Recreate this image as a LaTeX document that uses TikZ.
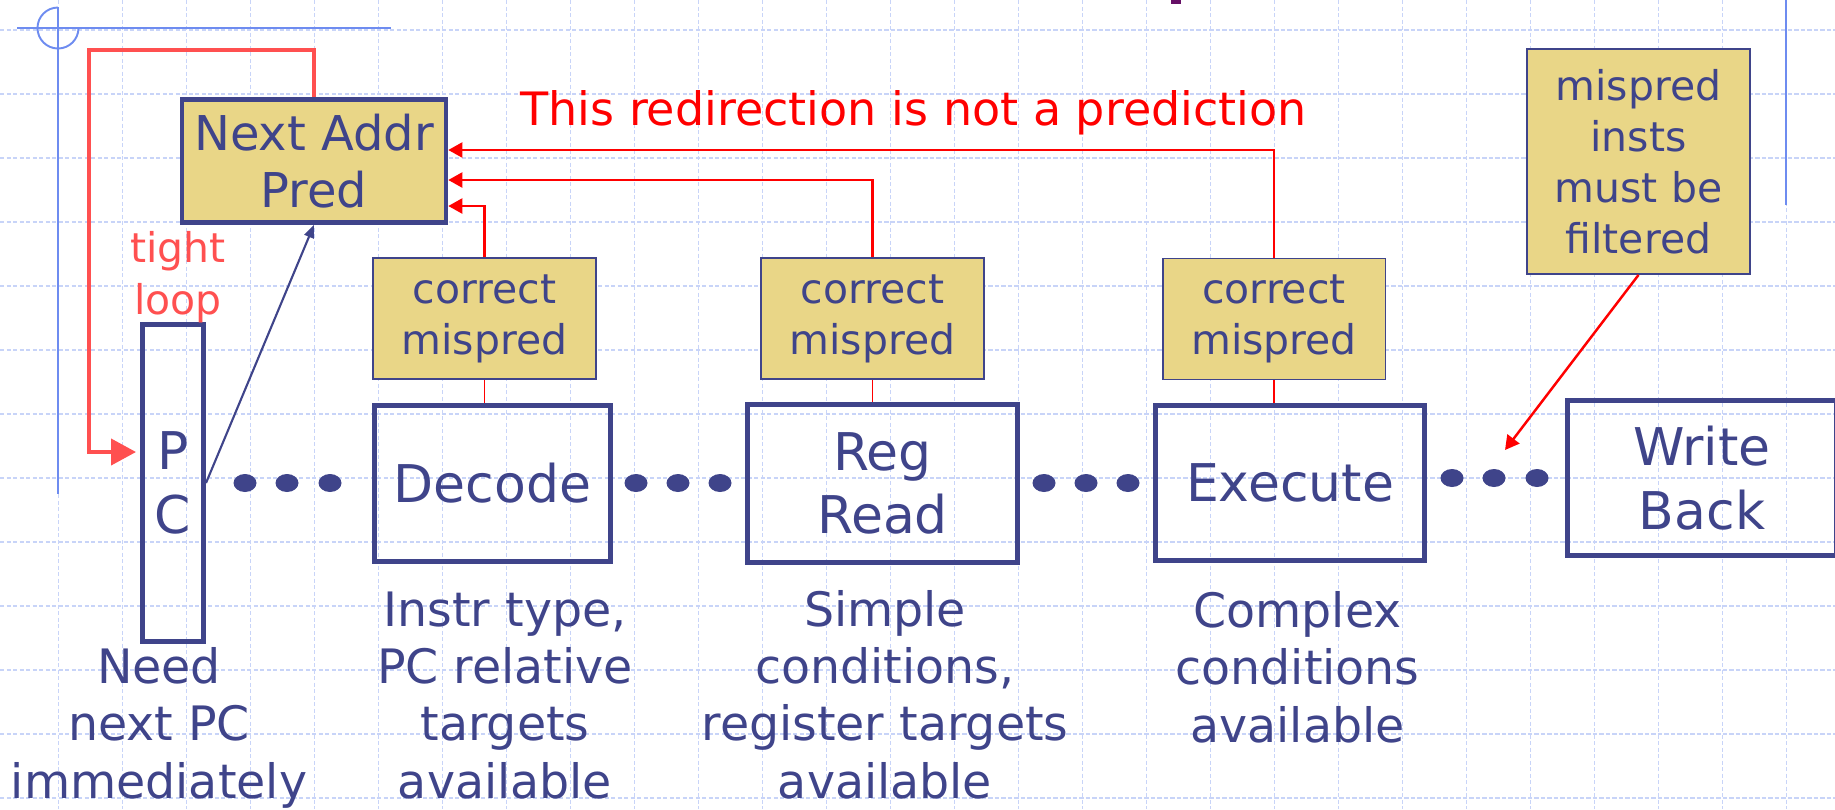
\documentclass[tikz,border=0pt]{standalone}
\usepackage{fontspec}
\setmainfont{DejaVu Sans}
\usetikzlibrary{arrows.meta,calc}
\definecolor{PipeBlue}{RGB}{63,68,138}
\definecolor{PaleKhaki}{RGB}{233,214,135}
\definecolor{RedirRed}{RGB}{255,0,0}
\definecolor{LoopRed}{RGB}{255,80,80}
\definecolor{SlideBlue}{RGB}{110,140,240}
\definecolor{GridBlue}{RGB}{200,212,248}
\definecolor{TitlePurple}{RGB}{102,16,102}

\begin{document}
\begin{tikzpicture}[x=0.02cm,y=-0.02cm, every node/.style={inner sep=0pt, align=center, text=PipeBlue},
  stage/.style={draw=PipeBlue, line width=2.85pt, font=\fontsize{29.6}{36.1}\selectfont},
  fixbox/.style={draw=PipeBlue, line width=1.1pt, fill=PaleKhaki, minimum width=4.46cm,
                 font=\fontsize{23.3}{29}\selectfont},
  note/.style={anchor=base, font=\fontsize{27}{32.6}\selectfont},
  redir/.style={RedirRed, line width=1.4pt, -{Triangle[length=8pt,width=8.5pt]}},
  gridline/.style={GridBlue, line width=0.8pt, dash pattern=on 2.5pt off 1.2pt}]
  \useasboundingbox (0,0) rectangle (1835,809);
  % slide background
  \foreach \gx in {0,...,27} \draw[gridline] ({58.5+64*\gx},0) -- ({58.5+64*\gx},809);
  \foreach \gy in {0,...,12} \draw[gridline] (0,{30+64*\gy}) -- (1835,{30+64*\gy});
  \draw[SlideBlue, line width=1.1pt] (17,28) -- (391,28);
  \draw[SlideBlue, line width=1.1pt] (58,7) -- (58,494);
  \draw[SlideBlue, line width=1.1pt] (78.5,28) arc[start angle=0, end angle=270, radius=20.5];
  \draw[SlideBlue, line width=1.1pt] (1786,0) -- (1786,205);
  \fill[TitlePurple] (1171,0) rectangle (1181,4);

  % pipeline stages
  \node[stage, minimum width=1.22cm, minimum height=6.34cm] (pc) at (173,483) {P\\C};
  \node[stage, minimum width=4.72cm, minimum height=3.12cm] (dec) at (492.5,483.5) {Decode};
  \node[stage, minimum width=5.4cm, minimum height=3.16cm] (rr) at (882.5,483.5) {Reg\\Read};
  \node[stage, minimum width=5.38cm, minimum height=3.1cm] (exe) at (1290,483) {Execute};
  \node[stage, minimum width=5.4cm, minimum height=3.1cm] (wb) at (1702,478) {Write\\Back};
  \foreach \dx in {245,287,330,636,678,720,1044,1086,1128}
    \fill[PipeBlue] (\dx,483) ellipse [x radius=11.5, y radius=9];
  \foreach \dx in {1452,1494,1537}
    \fill[PipeBlue] (\dx,478) ellipse [x radius=11.5, y radius=9];

  % predictor and fix-up boxes
  \node[draw=PipeBlue, line width=2.6pt, fill=PaleKhaki, minimum width=5.28cm, minimum height=2.46cm,
        font=\fontsize{27.3}{32.4}\selectfont] (nap) at (314,161) {Next Addr\\Pred};
  \node[fixbox, minimum height=2.42cm] (fix1) at (484.5,318.5) {correct\\mispred};
  \node[fixbox, minimum height=2.42cm] (fix2) at (872.5,318.5) {correct\\mispred};
  \node[fixbox, minimum height=2.42cm] (fix3) at (1274,319) {correct\\mispred};
  \node[fixbox, minimum height=4.5cm] (mis) at (1638.5,161.5) {mispred\\insts\\must be\\filtered};

  % labels (base = last line)
  \node[anchor=base west, text=RedirRed, font=\fontsize{26.2}{31}\selectfont] (redirlbl) at (520,125)
       {This redirection is not a prediction};
  \node[anchor=base, text=LoopRed, font=\fontsize{23.3}{29.6}\selectfont] (tightlbl) at (178,314) {tight\\loop};
  \node[note] (pcnote) at (159,798) {Need\\next PC\\immediately};
  \node[note] (decnote) at (505,798) {Instr type,\\PC relative\\targets\\available};
  \node[note] (rrnote) at (885,798) {Simple\\conditions,\\register targets\\available};
  \node[note] (exenote) at (1297.5,742) {Complex\\conditions\\available};

  % connectors
  \coordinate (loopcorner) at (89,50);
  \draw[LoopRed, line width=2.2pt, -{Triangle[length=14.2pt,width=14.8pt]}]
       (nap.north) |- (loopcorner) |- ($(pc.west)+(-4,-31)$);
  \draw[PipeBlue, line width=1.2pt, -{Triangle[length=7.4pt,width=5.7pt]}] (pc.east) -- (nap.south);
  \draw[redir] (fix1.north) |- ($(nap.east)+(0,45)$);
  \draw[redir] (fix2.north) |- ($(nap.east)+(0,19)$);
  \draw[redir] (fix3.north) |- ($(nap.east)+(0,-11)$);
  \draw[RedirRed, line width=0.9pt] (fix1.south) -- (fix1.south |- dec.north);
  \draw[RedirRed, line width=0.9pt] (fix2.south) -- (fix2.south |- rr.north);
  \draw[RedirRed, line width=0.9pt] (fix3.south) -- (fix3.south |- exe.north);
  \coordinate (filttip) at (1505,450);
  \draw[redir] (mis.south) -- (filttip);
\end{tikzpicture}
\end{document}
